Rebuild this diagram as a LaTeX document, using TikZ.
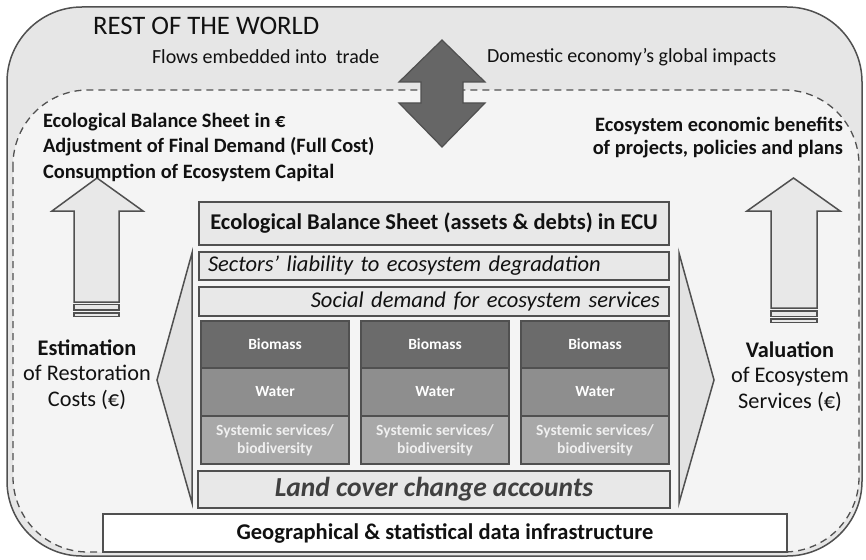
\documentclass[tikz,border=0pt]{standalone}
\usepackage{fontspec}
\setmainfont{Carlito}
\definecolor{bordergray}{HTML}{505050}
\definecolor{outerfill}{HTML}{E6E6E6}
\definecolor{innerfill}{HTML}{F4F4F4}
\definecolor{arrowdark}{HTML}{666666}
\definecolor{lightbox}{HTML}{E8E8E8}
\definecolor{chevfill}{HTML}{E2E2E2}
\definecolor{biomassc}{HTML}{6B6B6B}
\definecolor{waterc}{HTML}{8E8E8E}
\definecolor{systemicc}{HTML}{A8A8A8}
\definecolor{textdark}{HTML}{111111}
\definecolor{landtext}{HTML}{404040}
\begin{document}
\begin{tikzpicture}[x=1pt,y=-1pt,
  line join=miter,
  frame/.style={draw=bordergray, line width=1.5pt},
  box/.style={frame, fill=lightbox, inner sep=0pt, outer sep=0pt, anchor=north west, text=textdark},
  cell/.style={draw=bordergray, line width=1.5pt, inner sep=0pt, outer sep=0pt, anchor=north west,
    minimum width=148pt, font=\fontsize{15.5}{18}\selectfont\bfseries, text=white, align=center},
  lbl/.style={inner sep=0pt, outer sep=0pt, text=textdark},
  sidefont/.style={font=\fontsize{22.3}{26}\selectfont},
  sidebold/.style={font=\fontsize{22.3}{26}\selectfont\bfseries},
  boldside/.style={font=\fontsize{20.4}{24}\selectfont\bfseries},
  topfont/.style={font=\fontsize{20}{24}\selectfont},
]
\useasboundingbox (0,0) rectangle (866,559);

% outer world frame and dashed domestic frame
\draw[frame, fill=outerfill, rounded corners=75pt] (7,7) rectangle (862,556);
\draw[draw=bordergray, line width=1.3pt, dash pattern=on 7pt off 5pt, fill=innerfill,
  rounded corners=75pt] (13,90) rectangle (859,552);

% double arrow
\draw[frame, fill=arrowdark, line width=1.2pt]
  (442,40) -- (485,82) -- (463,82) -- (463,103) -- (485,103) -- (442,147)
  -- (399,103) -- (421,103) -- (421,82) -- (399,82) -- cycle;

% up arrows
\draw[frame, fill=lightbox] (97,178) -- (143,211) -- (119,211) -- (119,302)
  -- (74,302) -- (74,211) -- (52,211) -- cycle;
\draw[frame, fill=lightbox, line width=1.2pt] (74,304.5) rectangle (119,310);
\draw[frame, fill=lightbox, line width=1.2pt] (74,313) rectangle (119,316.5);

\draw[frame, fill=lightbox] (793.5,178) -- (840,211) -- (817,211) -- (817,308)
  -- (771,308) -- (771,211) -- (747,211) -- cycle;
\draw[frame, fill=lightbox, line width=1.2pt] (771,311) rectangle (817,316.5);
\draw[frame, fill=lightbox, line width=1.2pt] (771,319) rectangle (817,322.7);

% chevrons
\draw[frame, fill=chevfill] (192,253) -- (157,380) -- (192,503) -- cycle;
\draw[frame, fill=chevfill] (679,253) -- (714,380) -- (679,503) -- cycle;

% central stack
\node[box, minimum width=470pt, minimum height=43pt, font=\fontsize{22.5}{26}\selectfont\bfseries]
  (ebs) at (199,202) {Ecological Balance Sheet (assets \& debts) in ECU};
\node[box, minimum width=470pt, minimum height=28pt, text width=452pt, inner xsep=9pt, align=left,
  font=\fontsize{22.5}{26}\selectfont\itshape]
  (sectors) at (199,252) {Sectors’ liability to ecosystem degradation};
\node[box, minimum width=470pt, minimum height=29pt, text width=452pt, inner xsep=9pt, align=right,
  font=\fontsize{22.5}{26}\selectfont\itshape]
  (social) at (199,287) {Social demand for ecosystem services};

\foreach \x/\n in {201/a,361/b,521/c}{
  \node[cell, fill=biomassc, minimum height=47pt] (bio\n) at (\x,321) {Biomass};
  \node[cell, fill=waterc, minimum height=48pt] (wat\n) at (\x,368) {Water};
  \node[cell, fill=systemicc, minimum height=48pt, text=white!94!black] (sys\n) at (\x,416)
    {Systemic services/\\biodiversity};
}

\node[box, minimum width=472pt, minimum height=37pt, text=landtext,
  font=\fontsize{27.5}{31}\selectfont\bfseries\itshape]
  (land) at (198,471) {Land cover change accounts};
\node[box, fill=white, minimum width=684pt, minimum height=38pt,
  font=\fontsize{22.5}{26}\selectfont\bfseries]
  (geo) at (103,514) {Geographical \& statistical data infrastructure};

% top texts
\node[lbl, anchor=base west, font=\fontsize{26.7}{30}\selectfont] (rest) at (93,35) {REST OF THE WORLD};
\node[lbl, topfont, anchor=base west] (flows) at (152,64) {Flows embedded into\ \ trade};
\node[lbl, topfont, anchor=base west] (domestic) at (487,63) {Domestic economy’s global impacts};

% left top texts
\node[lbl, boldside, anchor=base west] (l1) at (43,127) {Ecological Balance Sheet in €};
\node[lbl, boldside, anchor=base west] (l2) at (43,152) {Adjustment of Final Demand (Full Cost)};
\node[lbl, boldside, anchor=base west] (l3) at (43,178) {Consumption of Ecosystem Capital};

% right top texts
\node[lbl, boldside, anchor=base east] (r1) at (843,131) {Ecosystem economic benefits};
\node[lbl, boldside, anchor=base east] (r2) at (843,154) {of projects, policies and plans};

% side labels
\node[lbl, sidebold, anchor=base] (est1) at (87,355) {Estimation};
\node[lbl, sidefont, anchor=base] (est2) at (87,380) {of Restoration};
\node[lbl, sidefont, anchor=base] (est3) at (87,406) {Costs (€)};

\node[lbl, sidebold, anchor=base] (val1) at (790,357) {Valuation};
\node[lbl, sidefont, anchor=base] (val2) at (790,382) {of Ecosystem};
\node[lbl, sidefont, anchor=base] (val3) at (790,408) {Services (€)};
\end{tikzpicture}
\end{document}
